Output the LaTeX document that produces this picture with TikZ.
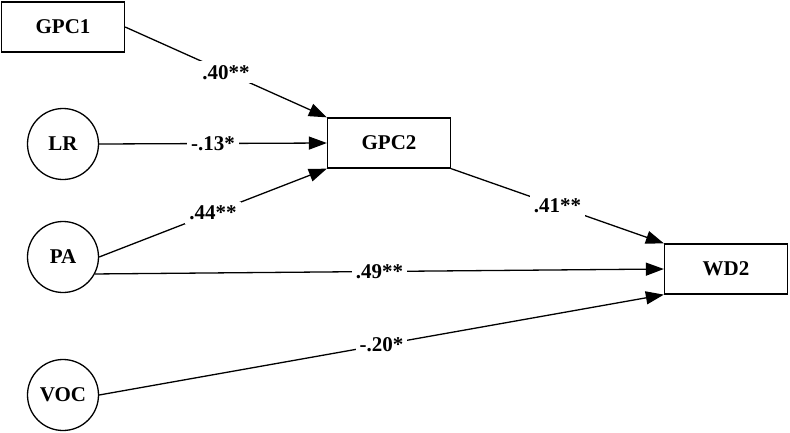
\documentclass[tikz,border=0pt]{standalone}
\usepackage{fontspec}
\setmainfont{Liberation Serif}
\usetikzlibrary{arrows.meta,positioning}

\begin{document}
\begin{tikzpicture}[x=1pt,y=-1pt,
  box/.style={draw,line width=1.3pt,minimum width=123pt,minimum height=50pt,font=\bfseries\fontsize{21}{24}\selectfont},
  var/.style={draw,circle,line width=1.3pt,minimum size=71pt,inner sep=0pt,font=\bfseries\fontsize{21}{24}\selectfont},
  effect/.style={line width=1.3pt,-{Triangle[length=18pt,width=13pt]}},
  coef/.style={fill=white,inner sep=4pt,font=\bfseries\fontsize{21}{24}\selectfont}]
  \useasboundingbox (0,0) rectangle (790,432);
  \node[box] (gpc1) at (63,27) {GPC1};
  \node[var] (lr) at (63,144) {LR};
  \node[var] (pa) at (63,257) {PA};
  \node[var] (voc) at (63,395) {VOC};
  \node[box] (gpc2) at (389,143) {GPC2};
  \node[box] (wd2) at (726,269) {WD2};
  \draw[effect] (gpc1.east) -- node[coef] {.40**} (gpc2.north west);
  \draw[effect] (lr.east) -- node[coef] {-.13*} (gpc2.west);
  \draw[effect] (pa.east) -- node[coef] {.44**} (gpc2.south west);
  \draw[effect] (gpc2.south east) -- node[coef] {.41**} (wd2.north west);
  \draw[effect] (pa.-28) -- node[coef] {.49**} (wd2.west);
  \draw[effect] (voc.east) -- node[coef] {-.20*} (wd2.south west);
\end{tikzpicture}
\end{document}
